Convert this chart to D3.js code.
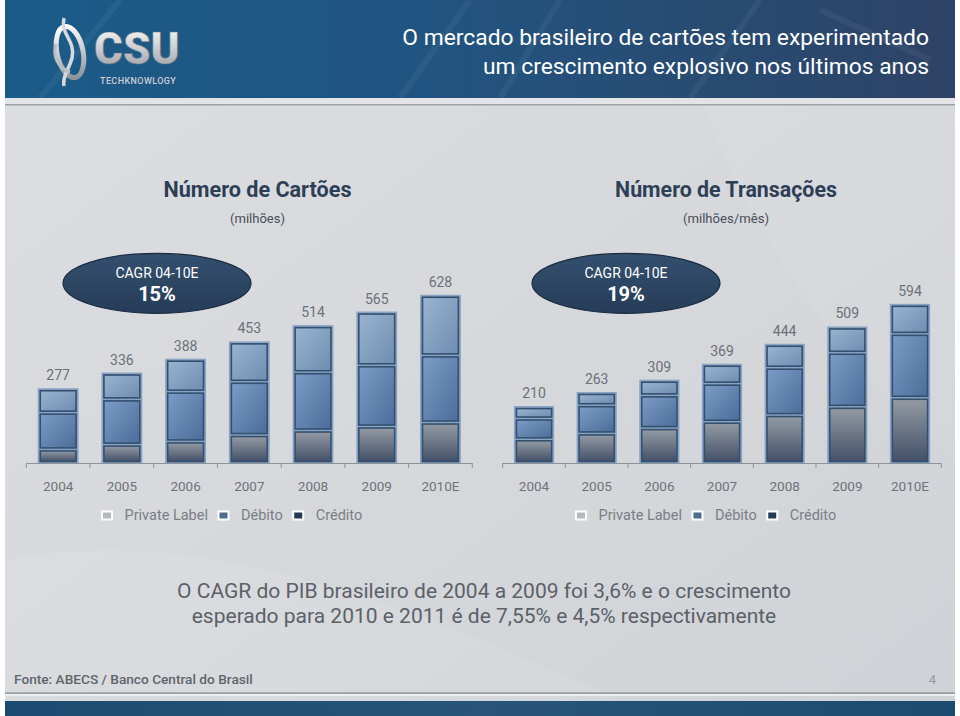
<!DOCTYPE html>
<html><head><meta charset="utf-8">
<script src="https://cdn.jsdelivr.net/npm/d3@7/dist/d3.min.js"></script>
<style>
html,body{margin:0;padding:0;background:#fff;}
svg{display:block;}
text{font-family:Roboto,"Open Sans",sans-serif;}
</style></head>
<body>
<script>
// ---------- DATA ----------
const years = ["2004","2005","2006","2007","2008","2009","2010E"];
const seriesNames = ["Private Label","Débito","Crédito"];
// Número de Cartões (milhões)
const cardsCredito = [51, 69, 81, 105, 122, 137, 152];
const cardsDebito = [138, 170, 187, 200, 219, 230, 252];
const cardsPrivateLabel = [88, 97, 120, 148, 173, 198, 224];
const cardsTotal = [277, 336, 388, 453, 514, 565, 628];
// Número de Transações (milhões/mês)
const txCredito = [89, 111, 131, 155, 180, 211, 245];
const txDebito = [78, 106, 123, 143, 178, 203, 240];
const txPrivateLabel = [43, 46, 55, 71, 86, 95, 109];
const txTotal = [210, 263, 309, 369, 444, 509, 594];
const cagrCards = "15%";
const cagrTx = "19%";

const W = 960, H = 716;
const svg = d3.select("body").append("svg").attr("width", W).attr("height", H);
const defs = svg.append("defs");

function lg(id, stops, x1=0,y1=0,x2=0,y2=1){
  const g = defs.append("linearGradient").attr("id", id)
    .attr("x1",x1).attr("y1",y1).attr("x2",x2).attr("y2",y2);
  stops.forEach(s => g.append("stop").attr("offset", s[0]).attr("stop-color", s[1]));
}
lg("bg", [[0,"#dcdee1"],[0.5,"#d6d8dc"],[1,"#cfd2d6"]], 0,0,1,1);
lg("hdr", [[0,"#1b5b88"],[0.45,"#215480"],[1,"#2e4366"]], 0,0,1,0);
lg("ftr", [[0,"#1b4b72"],[0.5,"#275478"],[1,"#1d4a70"]], 0,0,1,0);
lg("gPL", [[0,"#9ab4cf"],[1,"#6f8db2"]], 0,0,1,1);
lg("gDeb", [[0,"#7b9cc6"],[1,"#4c6d99"]], 0,0,1,1);
lg("gCred", [[0,"#939aa3"],[1,"#435068"]], 0,0,0,1);
lg("silver", [[0,"#ffffff"],[0.5,"#c9ccd1"],[1,"#8e949c"]], 0,0,0,1);
lg("ell", [[0,"#34506f"],[1,"#263c58"]], 0,0,0,1);

// ---------- BACKGROUND ----------
svg.append("rect").attr("x",5).attr("y",0).attr("width",950).attr("height",H).attr("fill","url(#bg)");
svg.append("path").attr("d","M5,560 C200,520 420,610 620,700 L5,716 Z").attr("fill","#ffffff").attr("opacity",0.08);
svg.append("path").attr("d","M700,100 C780,300 900,420 955,460 L955,100 Z").attr("fill","#ffffff").attr("opacity",0.06);

// header
svg.append("rect").attr("x",5).attr("y",0).attr("width",950).attr("height",98).attr("fill","url(#hdr)");
[[120,0,40,98],[470,0,400,98],[560,0,500,98],[760,0,690,98],[820,10,930,60]].forEach(l=>{
  svg.append("line").attr("x1",l[0]).attr("y1",l[1]).attr("x2",l[2]).attr("y2",l[3])
    .attr("stroke","#ffffff").attr("stroke-opacity",0.05).attr("stroke-width",6);
});
svg.append("rect").attr("x",5).attr("y",98).attr("width",950).attr("height",6).attr("fill","#e2e4e7");
svg.append("rect").attr("x",5).attr("y",104).attr("width",950).attr("height",1.5).attr("fill","#9da2a9");

// logo
const logo = svg.append("g");
logo.append("ellipse").attr("cx",70).attr("cy",52).attr("rx",13).attr("ry",26)
  .attr("fill","none").attr("stroke","url(#silver)").attr("stroke-width",5).attr("transform","rotate(-12,70,52)");
logo.append("path").attr("d","M64,18 C60,35 76,40 72,58 C69,70 62,76 64,86")
  .attr("fill","none").attr("stroke","#d6d9dd").attr("stroke-width",3.5);
logo.append("path").attr("d","M56,44 C52,56 58,68 70,72")
  .attr("fill","none").attr("stroke","#b9bec4").attr("stroke-width",3);
logo.append("text").attr("x",94).attr("y",64).attr("font-size",44).attr("font-weight",900)
  .attr("fill","url(#silver)").attr("stroke","#6f757d").attr("stroke-width",0.6).text("CSU");
logo.append("text").attr("x",100).attr("y",84).attr("font-size",9).attr("font-weight",500)
  .attr("fill","#c9cdd2").attr("letter-spacing",0.4).text("TECHKNOWLOGY");

function fit(sel, target){
  const n = sel.node(); const fs = parseFloat(sel.attr("font-size"));
  const w = n.getComputedTextLength(); if (w>0) sel.attr("font-size", fs*target/w);
}

// title
const t1 = svg.append("text").attr("x",929).attr("y",45).attr("text-anchor","end").attr("font-size",22)
  .attr("fill","#ffffff").text("O mercado brasileiro de cartões tem experimentado");
fit(t1, 527);
const t2 = svg.append("text").attr("x",929).attr("y",74).attr("text-anchor","end").attr("font-size",22)
  .attr("fill","#ffffff").text("um crescimento explosivo nos últimos anos");
t2.attr("font-size", t1.attr("font-size"));

// ---------- CHARTS ----------
const y = d3.scaleLinear().domain([0, 700]).range([463, 276.6]);
const keys = ["Crédito","Débito","Private Label"];
const fills = {"Crédito":"url(#gCred)","Débito":"url(#gDeb)","Private Label":"url(#gPL)"};
const swatch = {"Private Label":"#b6bac0","Débito":"#4f6b8d","Crédito":"#233955"};

function chart(cfg){
  const x = d3.scaleBand().domain(years).range(cfg.range).paddingInner(0.39).paddingOuter(0.195);
  const rows = years.map((yr,i)=>({year:yr,"Crédito":cfg.cred[i],"Débito":cfg.deb[i],"Private Label":cfg.pl[i],total:cfg.total[i]}));
  const stacked = d3.stack().keys(keys)(rows);
  const g = svg.append("g");
  const bw = x.bandwidth();
  g.selectAll("rect.halo").data(rows).join("rect").attr("class","halo")
    .attr("x", d=>x(d.year)-1).attr("width", bw+2)
    .attr("y", d=>y(d["Crédito"]+d["Débito"]+d["Private Label"])-1)
    .attr("height", d=>y(0)-y(d["Crédito"]+d["Débito"]+d["Private Label"])+1)
    .attr("fill","#88a3c3");
  stacked.forEach(s=>{
    g.selectAll(null).data(s).join("rect")
      .attr("x", d=>x(d.data.year)+1.5).attr("width", bw-3)
      .attr("y", d=>y(d[1])+1.5)
      .attr("height", d=>Math.max(0, y(d[0])-y(d[1])-3))
      .attr("fill", fills[s.key]).attr("stroke","#34506f").attr("stroke-width",1.6);
  });
  g.selectAll("text.tot").data(rows).join("text").attr("class","tot")
    .attr("x", d=>x(d.year)+bw/2).attr("y", d=>y(d.total)-9)
    .attr("text-anchor","middle").attr("font-size",14).attr("fill","#6c7178").text(d=>d.total);
  const ax = g.append("g").attr("transform",`translate(0,${y(0)})`)
    .call(d3.axisBottom(x).tickSize(0).tickPadding(18));
  ax.select(".domain").remove();
  ax.selectAll("text").attr("font-size",13.5).attr("fill","#6e737a").attr("font-family","Roboto,sans-serif");
  const r = x.range(), step = x.step();
  g.append("line").attr("x1",r[0]).attr("x2",r[1]).attr("y1",y(0)+0.5).attr("y2",y(0)+0.5)
    .attr("stroke","#8d939a").attr("stroke-width",1);
  g.selectAll("line.tk").data(d3.range(years.length+1)).join("line").attr("class","tk")
    .attr("x1",i=>r[0]+i*step).attr("x2",i=>r[0]+i*step).attr("y1",y(0)).attr("y2",y(0)+5)
    .attr("stroke","#8d939a");
  g.append("text").attr("x",cfg.cx).attr("y",197).attr("text-anchor","middle").attr("font-size",20)
    .attr("font-weight",700).attr("fill","#2d3f56").text(cfg.title).call(s=>fit(s,cfg.titleW));
  g.append("text").attr("x",cfg.cx).attr("y",223).attr("text-anchor","middle").attr("font-size",13)
    .attr("fill","#474f59").text(cfg.sub).call(s=>fit(s,cfg.subW));
  g.append("ellipse").attr("cx",cfg.ex).attr("cy",283.3).attr("rx",94).attr("ry",30)
    .attr("fill","url(#ell)").attr("stroke","#1b2c41").attr("stroke-width",1.2);
  g.append("text").attr("x",cfg.ex).attr("y",278).attr("text-anchor","middle").attr("font-size",14)
    .attr("fill","#ffffff").text("CAGR 04-10E");
  g.append("text").attr("x",cfg.ex).attr("y",300.5).attr("text-anchor","middle").attr("font-size",20)
    .attr("font-weight",700).attr("fill","#ffffff").text(cfg.cagr);
  let lx = cfg.legX;
  const lgd = g.append("g");
  seriesNames.forEach(n=>{
    lgd.append("rect").attr("x",lx).attr("y",511.5).attr("width",10).attr("height",8)
      .attr("fill",swatch[n]).attr("stroke","#ffffff").attr("stroke-width",2);
    const tx = lgd.append("text").attr("x",lx+22.5).attr("y",520).attr("font-size",14.5)
      .attr("fill","#7a7f86").text(n);
    lx = lx + 22.5 + tx.node().getComputedTextLength() + 10.5;
  });
}

chart({range:[26.3,472.3], cred:cardsCredito, deb:cardsDebito, pl:cardsPrivateLabel, total:cardsTotal,
  cx:257.5, title:"Número de Cartões", titleW:188, sub:"(milhões)", subW:55, ex:157, cagr:cagrCards, legX:102});
chart({range:[502.7,941.3], cred:txCredito, deb:txDebito, pl:txPrivateLabel, total:txTotal,
  cx:726, title:"Número de Transações", titleW:222, sub:"(milhões/mês)", subW:86, ex:626, cagr:cagrTx, legX:576});

// ---------- NOTE ----------
const n1 = svg.append("text").attr("x",484).attr("y",598).attr("text-anchor","middle").attr("font-size",19)
  .attr("fill","#5b6169").text("O CAGR do PIB brasileiro de 2004 a 2009 foi 3,6% e o crescimento");
fit(n1, 614);
const n2 = svg.append("text").attr("x",484).attr("y",623).attr("text-anchor","middle")
  .attr("font-size", n1.attr("font-size")).attr("fill","#5b6169")
  .text("esperado para 2010 e 2011 é de 7,55% e 4,5% respectivamente");

// ---------- FOOTER ----------
const f = svg.append("text").attr("x",14).attr("y",684).attr("font-size",12.5).attr("font-weight",500)
  .attr("fill","#5f656d").text("Fonte: ABECS / Banco Central do Brasil");
fit(f, 239);
svg.append("text").attr("x",936).attr("y",684).attr("text-anchor","end").attr("font-size",13)
  .attr("fill","#949aa1").text("4");
svg.append("rect").attr("x",5).attr("y",692.5).attr("width",950).attr("height",1.2).attr("fill","#7f858c");
svg.append("rect").attr("x",5).attr("y",694).attr("width",950).attr("height",2).attr("fill","#eceef0");
svg.append("rect").attr("x",5).attr("y",701).attr("width",950).attr("height",15).attr("fill","url(#ftr)");
</script>
</body></html>
